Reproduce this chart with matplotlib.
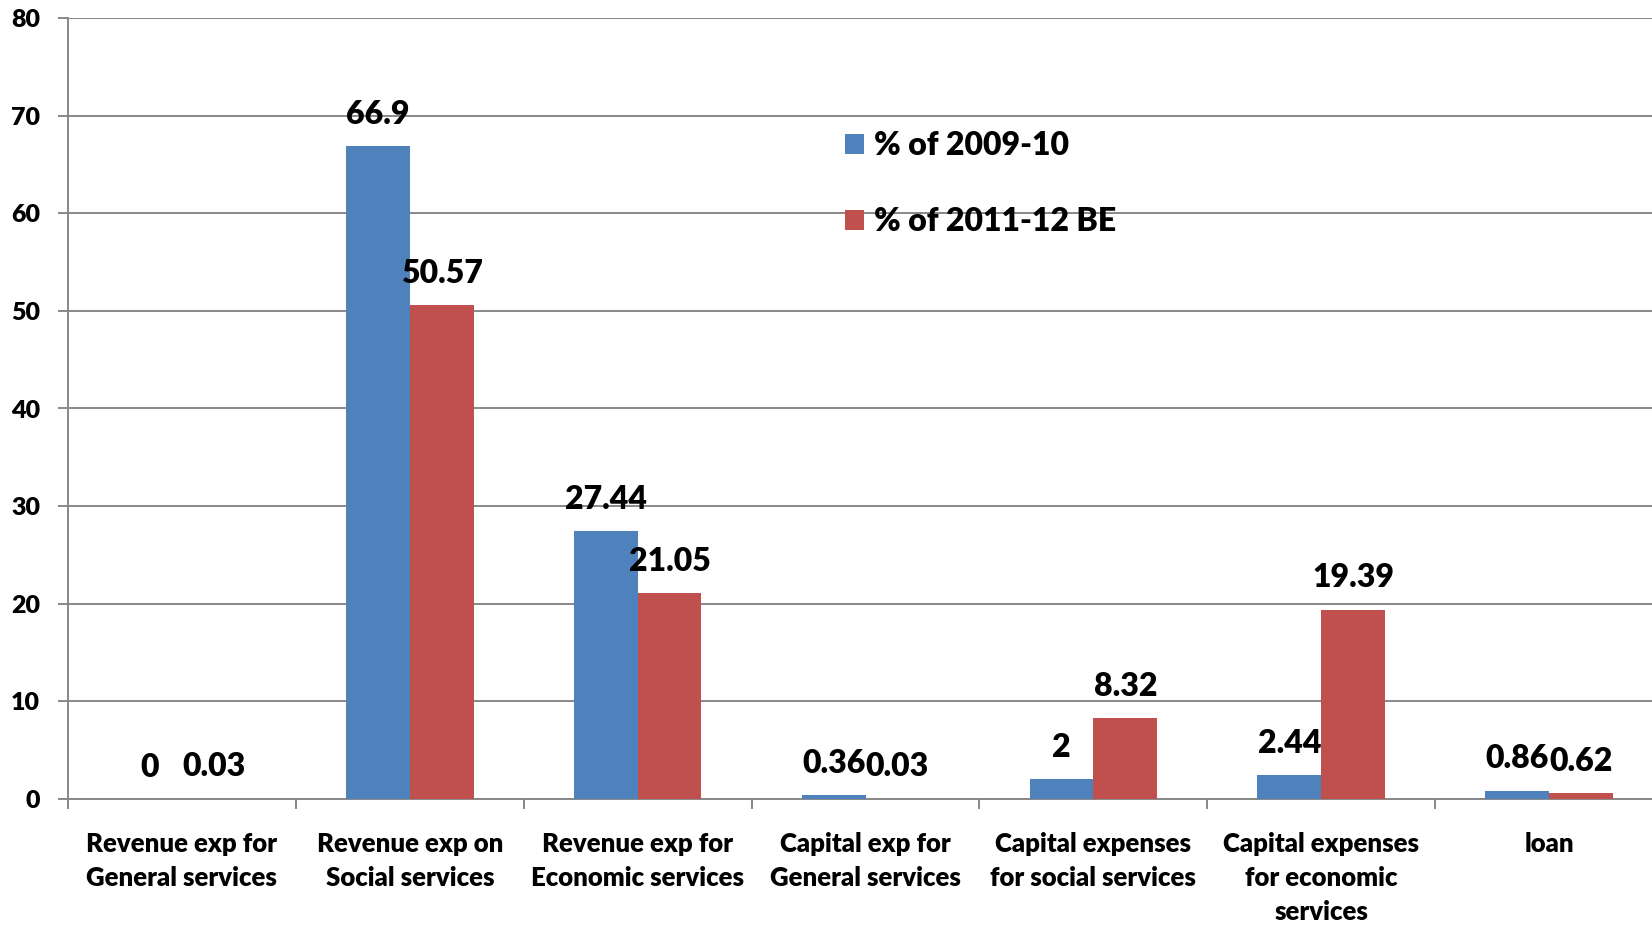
import matplotlib.pyplot as plt
import numpy as np

categories = ["Revenue exp for\nGeneral services", "Revenue exp on\nSocial services",
              "Revenue exp for\nEconomic services", "Capital exp for\nGeneral services",
              "Capital expenses\nfor social services", "Capital expenses\nfor economic\nservices",
              "loan"]
pct_2009 = [0, 66.9, 27.44, 0.36, 2, 2.44, 0.86]
pct_2011 = [0.03, 50.57, 21.05, 0.03, 8.32, 19.39, 0.62]
labels_2009 = ["0", "66.9", "27.44", "0.36", "2", "2.44", "0.86"]
labels_2011 = ["0.03", "50.57", "21.05", "0.03", "8.32", "19.39", "0.62"]

plt.rcParams['font.family'] = ['Lato', 'DejaVu Sans']
WEIGHT = 'heavy'

BLUE = "#4F81BD"
RED = "#C0504D"
GRID = "#888888"

fig = plt.figure(figsize=(16.52, 9.26), dpi=100)
ax = fig.add_axes([68 / 1652, 1 - 799 / 926, (1663 - 68) / 1652, (799 - 18) / 926])

x = np.arange(len(categories))
w = 0.28
b1 = ax.bar(x - w / 2, pct_2009, w, color=BLUE, label="% of 2009-10", zorder=3)
b2 = ax.bar(x + w / 2, pct_2011, w, color=RED, label="% of 2011-12 BE", zorder=3)

for bars, labs in ((b1, labels_2009), (b2, labels_2011)):
    for rect, lab in zip(bars, labs):
        ax.annotate(lab, (rect.get_x() + rect.get_width() / 2, rect.get_height()),
                    xytext=(0, 16), textcoords="offset points", ha="center", va="baseline",
                    fontsize=23, fontweight=WEIGHT, zorder=4)

ax.set_xlim(-0.5, len(categories) - 0.5)
ax.set_ylim(0, 80)
ax.set_yticks(range(0, 81, 10))
ax.yaxis.grid(True, color=GRID, linewidth=1.4, zorder=0)
ax.set_axisbelow(True)

ax.set_xticks(x)
ax.set_xticklabels(categories, fontsize=18.5, fontweight=WEIGHT, linespacing=1.48, va="top")
ax.tick_params(axis="x", length=0, pad=24)
ax.set_xticks(np.arange(-0.5, len(categories) - 0.4, 1), minor=True)
ax.tick_params(axis="x", which="minor", length=7, width=1.4, color=GRID, direction="out")
ax.tick_params(axis="y", length=7, width=1.4, color=GRID, labelsize=18, pad=13)
for t in ax.get_yticklabels():
    t.set_fontweight(WEIGHT)

for s in ("top", "right"):
    ax.spines[s].set_visible(False)
for s in ("left", "bottom"):
    ax.spines[s].set_color(GRID)
    ax.spines[s].set_linewidth(1.4)

ax.legend(loc="upper left", bbox_to_anchor=(0.469, 0.892), frameon=False,
          prop={"size": 23, "weight": WEIGHT}, handlelength=0.6, handleheight=0.6,
          handletextpad=0.3, labelspacing=1.48)

fig.savefig("out.png", dpi=100)
